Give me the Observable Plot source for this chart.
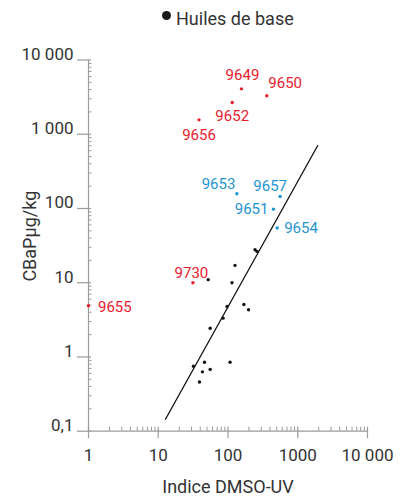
<!DOCTYPE html>
<html>
<head>
<meta charset="utf-8">
<script src="https://cdn.jsdelivr.net/npm/d3@7"></script>
<script src="https://cdn.jsdelivr.net/npm/@observablehq/plot@0.6"></script>
<style>
  html, body { margin: 0; padding: 0; background: #fff; }
  #wrap { width: 403px; font-family: Roboto, "DejaVu Sans", sans-serif; }
  #legend { position: relative; height: 30px; width: 403px; }
  #legend .dot { position: absolute; left: 161.5px; top: 10.5px; width: 9px; height: 9px; border-radius: 50%; background: #1a1a1a; }
  #legend .lab { position: absolute; left: 176px; top: 10px; font-size: 18px; line-height: 18px; color: #333; white-space: nowrap; }
  svg { display: block; }
</style>
</head>
<body>
<div id="wrap">
  <div id="legend"><span class="dot"></span><span class="lab">Huiles de base</span></div>
  <div id="chart"></div>
</div>
<script>
// ---- data ----
const baseX = [244, 261, 126, 52, 114, 97, 169, 197, 85, 55.5, 32, 46, 107, 43, 55.5, 39];
const baseY = [27.8, 26.4, 17.1, 11, 10, 4.8, 5.1, 4.33, 3.33, 2.44, 0.75, 0.85, 0.85, 0.63, 0.68, 0.46];

const labelIds   = ["9649", "9650", "9652", "9656", "9730", "9655", "9653", "9657", "9651", "9654"];
const labelX     = [156, 360, 115, 38.4, 31.4, 1, 134, 559, 449, 507];
const labelY     = [4090, 3300, 2680, 1563, 10, 4.9, 158, 145, 98, 54.5];
const labelGroup = ["red", "red", "red", "red", "red", "red", "blue", "blue", "blue", "blue"];

const fitX = [12.7, 1935];
const fitY = [0.145, 705];

const xTicks = [1, 10, 100, 1000, 10000];
const xTickLabels = ["1", "10", "100", "1000", "10 000"];
const yTicks = [0.1, 1, 10, 100, 1000, 10000];
const yTickLabels = ["0,1", "1", "10", "100", "1 000", "10 000"];

const legendLabel = "Huiles de base";
const xTitle = "Indice DMSO-UV";
const yTitle = "CBaPμg/kg";

// ---- styles ----
const colors = {red: "#e8202e", blue: "#1f94cf"};
const axisColor = "#9b9b9b";
const textColor = "#333333";
const placement = {
  "9649": {textAnchor: "middle", dx: 1, dy: -14},
  "9650": {textAnchor: "start", dx: 1.5, dy: -13},
  "9652": {textAnchor: "middle", dx: 0, dy: 14},
  "9656": {textAnchor: "middle", dx: 0, dy: 15},
  "9730": {textAnchor: "middle", dx: -1.5, dy: -10},
  "9655": {textAnchor: "start", dx: 9.5, dy: 1.5},
  "9653": {textAnchor: "end", dx: -1.5, dy: -10},
  "9657": {textAnchor: "middle", dx: -10, dy: -10.5},
  "9651": {textAnchor: "end", dx: -5, dy: 0},
  "9654": {textAnchor: "start", dx: 7, dy: 0.5}
};

// ---- tables ----
const base = baseX.map((x, i) => ({x, y: baseY[i]}));
const labeled = labelIds.map((id, i) => ({id, x: labelX[i], y: labelY[i], group: labelGroup[i]}));
const fit = fitX.map((x, i) => ({x, y: fitY[i]}));
const xFmt = new Map(xTicks.map((v, i) => [v, xTickLabels[i]]));
const yFmt = new Map(yTicks.map((v, i) => [v, yTickLabels[i]]));

function minorTicks(majors) {
  const out = [];
  for (let k = 0; k < majors.length - 1; k++) {
    for (let m = 2; m <= 9; m++) out.push(majors[k] * m);
  }
  return out;
}
const xMinor = minorTicks(xTicks);
const yMinor = minorTicks(yTicks);

document.querySelector("#legend .lab").textContent = legendLabel;

const chart = Plot.plot({
  width: 403,
  height: 474,
  marginTop: 29.5,
  marginBottom: 73.3,
  marginLeft: 88,
  marginRight: 36,
  style: {fontFamily: "Roboto, 'DejaVu Sans', sans-serif", background: "white", color: textColor},
  x: {type: "log", domain: [1, 10000], axis: null},
  y: {type: "log", domain: [0.1, 10000], axis: null},
  marks: [
    // axis lines
    Plot.ruleY([0.1], {stroke: axisColor, strokeWidth: 1.2}),
    Plot.ruleX([1], {stroke: axisColor, strokeWidth: 1.2}),
    // x ticks
    Plot.axisX(xMinor, {tickSize: 4, dy: -4, fill: "none", stroke: axisColor, label: null}),
    Plot.axisX(xTicks, {tickSize: 11.5, dy: -4, fill: "none", stroke: axisColor, strokeWidth: 1.2, label: null}),
    Plot.axisX(xTicks, {tickSize: 0, tickPadding: 17.3, stroke: "none", fill: textColor, fontSize: 17, tickFormat: d => xFmt.get(d), label: null}),
    // y ticks
    Plot.axisY(yMinor, {tickSize: 3.5, dx: 3.5, fill: "none", stroke: axisColor, label: null}),
    Plot.axisY(yTicks, {tickSize: 14, dx: 3, fill: "none", stroke: axisColor, strokeWidth: 1.2, label: null}),
    Plot.axisY(yTicks, {tickSize: 0, tickPadding: 15, lineAnchor: "bottom", stroke: "none", fill: textColor, fontSize: 17, tickFormat: d => yFmt.get(d), label: null}),
    // axis titles
    Plot.text([xTitle], {frameAnchor: "bottom", dy: 62, fontSize: 18, fill: textColor}),
    Plot.text([yTitle], {frameAnchor: "left", rotate: -90, dx: -58, dy: 36, fontSize: 18, fill: textColor}),
    // regression line
    Plot.line(fit, {x: "x", y: "y", stroke: "#111", strokeWidth: 1.3}),
    // points
    Plot.dot(base, {x: "x", y: "y", r: 1.7, fill: "#111"}),
    Plot.dot(labeled, {x: "x", y: "y", r: 1.7, fill: d => colors[d.group]}),
    ...labeled.map(d => Plot.text([d], {x: "x", y: "y", text: "id", fill: colors[d.group], fontSize: 15, ...placement[d.id]}))
  ]
});
document.getElementById("chart").appendChild(chart);
</script>
</body>
</html>
